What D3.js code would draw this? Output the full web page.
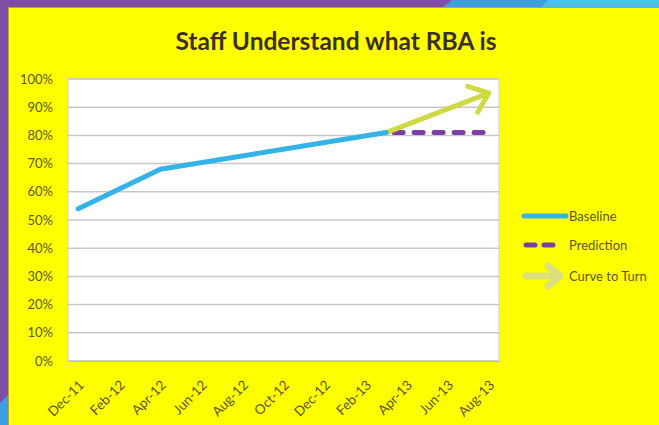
<!DOCTYPE html>
<html>
<head>
<meta charset="utf-8">
<script src="https://cdn.jsdelivr.net/npm/d3@7"></script>
<style>
  html, body { margin: 0; padding: 0; background: #ffff00; }
  svg { display: block; }
</style>
</head>
<body>
<svg id="chart" width="659" height="425"></svg>
<script>
// Monthly categories on the x axis; every second month is labelled
const months = ["Dec-11","Jan-12","Feb-12","Mar-12","Apr-12","May-12","Jun-12","Jul-12",
  "Aug-12","Sep-12","Oct-12","Nov-12","Dec-12","Jan-13","Feb-13","Mar-13","Apr-13",
  "May-13","Jun-13","Jul-13","Aug-13"];
const tickLabels = ["Dec-11","Feb-12","Apr-12","Jun-12","Aug-12","Oct-12","Dec-12",
  "Feb-13","Apr-13","Jun-13","Aug-13"];
const yTicks = [0, 0.1, 0.2, 0.3, 0.4, 0.5, 0.6, 0.7, 0.8, 0.9, 1.0];

// Series
const baselineMonths = ["Dec-11", "Apr-12", "Mar-13"];
const baselineValues = [0.54, 0.68, 0.81];
const predictionMonths = ["Mar-13", "Aug-13"];
const predictionValues = [0.81, 0.81];
const curveMonths = ["Mar-13", "Aug-13"];
const curveValues = [0.81, 0.95];

const legendNames = ["Baseline", "Prediction", "Curve to Turn"];

const svg = d3.select("#chart");
const W = 659, H = 425;

// Slide background and frame
svg.append("rect").attr("width", W).attr("height", H).attr("fill", "#ffff00");
svg.append("rect").attr("x", 0).attr("y", 0).attr("width", W).attr("height", 7).attr("fill", "#7f4fa6");
svg.append("rect").attr("x", 0).attr("y", 0).attr("width", 8).attr("height", H).attr("fill", "#7f4fa6");
svg.append("polygon").attr("points", "452,0 548,0 541,7 443,7").attr("fill", "#3d9de2");
svg.append("polygon").attr("points", "548,0 659,0 659,7 541,7").attr("fill", "#49bfed");
svg.append("polygon").attr("points", "0,403 8,395 8,425 0,425").attr("fill", "#3d9de2");
svg.append("line").attr("x1", 8.5).attr("x2", W).attr("y1", 7.5).attr("y2", 7.5)
  .attr("stroke", "#b5a830").attr("stroke-width", 1);
svg.append("line").attr("x1", 8.5).attr("x2", 8.5).attr("y1", 7.5).attr("y2", H)
  .attr("stroke", "#b5a830").attr("stroke-width", 1);

// Title
svg.append("text")
  .attr("x", 336).attr("y", 50)
  .attr("text-anchor", "middle")
  .attr("font-family", "Lato, 'Open Sans', sans-serif")
  .attr("font-weight", "bold")
  .attr("font-size", 24.5)
  .attr("fill", "#3a2f22")
  .text("Staff Understand what RBA is");

// Plot area
const plot = { left: 68, right: 499, top: 79, bottom: 361 };
const x = d3.scalePoint().domain(months).range([plot.left, plot.right]).padding(0.5);
const y = d3.scaleLinear().domain([0, 1]).range([plot.bottom, plot.top]);

svg.append("rect")
  .attr("x", plot.left).attr("y", plot.top)
  .attr("width", plot.right - plot.left).attr("height", plot.bottom - plot.top)
  .attr("fill", "#ffffff").attr("stroke", "#cfcfcf").attr("stroke-width", 1);

// Gridlines
svg.append("g").selectAll("line").data(yTicks).join("line")
  .attr("x1", plot.left).attr("x2", plot.right)
  .attr("y1", d => y(d)).attr("y2", d => y(d))
  .attr("stroke", "#c8c8c8").attr("stroke-width", 1.5);

const labelColor = "#5f5520";
const labelFont = "Lato, 'Open Sans', sans-serif";

// Y axis
const yAxis = d3.axisLeft(y).tickValues(yTicks).tickFormat(d3.format(".0%")).tickSize(0).tickPadding(15);
const gy = svg.append("g").attr("transform", `translate(${plot.left},0)`).call(yAxis);
gy.select(".domain").remove();
gy.selectAll("text").attr("font-family", labelFont).attr("font-size", 13).attr("fill", labelColor);

// X axis
const xAxis = d3.axisBottom(x).tickValues(tickLabels).tickSize(0);
const gx = svg.append("g").attr("transform", `translate(0,${plot.bottom})`).call(xAxis);
gx.select(".domain").attr("stroke", "#bdbdbd");
gx.selectAll("text")
  .attr("font-family", labelFont).attr("font-size", 13.5).attr("fill", labelColor)
  .attr("text-anchor", "end")
  .attr("dy", null).attr("y", 0)
  .attr("transform", "translate(6,25) rotate(-45)");

// Series lines
const line = d3.line().x(d => x(d.m)).y(d => y(d.v));
const toPts = (ms, vs) => ms.map((m, i) => ({ m, v: vs[i] }));

const baseColor = "#33b3e6";
const predColor = "#7b3fa3";
const curveColor = "#cfd944";

svg.append("path").datum(toPts(predictionMonths, predictionValues))
  .attr("d", line).attr("fill", "none")
  .attr("stroke", predColor).attr("stroke-width", 5)
  .attr("stroke-dasharray", "9,11").attr("stroke-linecap", "round")
  .attr("stroke-dashoffset", -8);

const curvePts = toPts(curveMonths, curveValues);
svg.append("path").datum(curvePts)
  .attr("d", line).attr("fill", "none")
  .attr("stroke", curveColor).attr("stroke-width", 5).attr("stroke-linecap", "round");

// Open arrowhead at the end of the curve
{
  const a = curvePts[0], b = curvePts[curvePts.length - 1];
  const x0 = x(a.m), y0 = y(a.v), x1 = x(b.m), y1 = y(b.v);
  const ang = Math.atan2(y1 - y0, x1 - x0);
  const len = 22, spread = Math.PI / 4.6;
  const p1 = [x1 - len * Math.cos(ang - spread), y1 - len * Math.sin(ang - spread)];
  const p2 = [x1 - len * Math.cos(ang + spread), y1 - len * Math.sin(ang + spread)];
  svg.append("path")
    .attr("d", `M${p1[0]},${p1[1]}L${x1},${y1}L${p2[0]},${p2[1]}`)
    .attr("fill", "none").attr("stroke", curveColor).attr("stroke-width", 5)
    .attr("stroke-linecap", "round").attr("stroke-linejoin", "round");
}

svg.append("path").datum(toPts(baselineMonths, baselineValues))
  .attr("d", line).attr("fill", "none")
  .attr("stroke", baseColor).attr("stroke-width", 5)
  .attr("stroke-linecap", "round").attr("stroke-linejoin", "round");

// Legend
const legend = svg.append("g");
const lgY = [216, 245, 276];
legend.append("line").attr("x1", 524).attr("x2", 566).attr("y1", lgY[0]).attr("y2", lgY[0])
  .attr("stroke", baseColor).attr("stroke-width", 5).attr("stroke-linecap", "round");
legend.append("line").attr("x1", 526).attr("x2", 560).attr("y1", lgY[1]).attr("y2", lgY[1])
  .attr("stroke", predColor).attr("stroke-width", 5).attr("stroke-linecap", "round")
  .attr("stroke-dasharray", "9,9");
legend.append("line").attr("x1", 526).attr("x2", 556).attr("y1", lgY[2]).attr("y2", lgY[2])
  .attr("stroke", "#dcdf7a").attr("stroke-width", 7).attr("stroke-linecap", "round");
legend.append("path").attr("d", `M548,${lgY[2] - 10}L560,${lgY[2]}L548,${lgY[2] + 10}`)
  .attr("fill", "none").attr("stroke", "#dcdf7a").attr("stroke-width", 7)
  .attr("stroke-linecap", "round").attr("stroke-linejoin", "round");
legend.selectAll("text").data(legendNames).join("text")
  .attr("x", 569).attr("y", (d, i) => lgY[i]).attr("dy", "0.35em")
  .attr("font-family", labelFont).attr("font-size", 13).attr("fill", labelColor)
  .text(d => d);
</script>
</body>
</html>
